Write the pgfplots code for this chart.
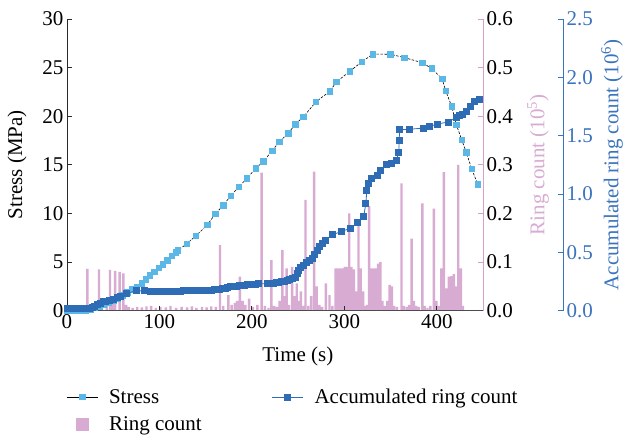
\documentclass[border=0pt]{standalone}
\usepackage{fontspec}
\setmainfont{Liberation Serif}
\usepackage{pgfplots}
\pgfplotsset{compat=1.18}

\definecolor{stressc}{HTML}{5BB7E5}
\definecolor{accc}{HTML}{2E6DB5}
\definecolor{accax}{HTML}{3B74BD}
\definecolor{ringc}{HTML}{D8ABD2}
\definecolor{ringax}{HTML}{D79FD0}
\definecolor{axc}{HTML}{2B2B2B}

\pgfplotsset{
  common/.style={
    scale only axis, height=291.7pt, ymin=0,
    font=\fontsize{21}{24}\selectfont,
    /pgf/number format/assume math mode=true,
    tick align=inside, clip=false, major tick length=5pt,
  },
  onedec/.style={/pgf/number format/fixed, /pgf/number format/fixed zerofill,
    /pgf/number format/precision=1},
}

\begin{document}
\begin{tikzpicture}

% ring count bars, drawn first so they sit behind the lines
\begin{axis}[common, width=416pt, xmin=0, xmax=450,
  axis x line=none, axis y line*=right,
  ymax=0.6, ytick={0,0.1,0.2,0.3,0.4,0.5,0.6},
  yticklabel style={onedec},
  y axis line style={ringax, line width=0.9pt},
  ytick style={ringax, line width=0.9pt},
  ylabel={Ring count (10\textsuperscript{5})},
  every axis y label/.style={at={(rel axis cs:1,0.5)}, xshift=55pt, rotate=90, anchor=center, text=ringc},
]
\addplot[ybar, bar width=2.6, bar shift=0pt, fill=ringc, draw=none] coordinates {
(22,0.086)(34.6,0.085)(43,0.025)(46.5,0.084)(49,0.02)(52,0.082)(57,0.08)(61,0.077)
(64,0.012)(67,0.008)(71,0.006)(76,0.008)(81,0.007)(86,0.009)(91,0.01)(96,0.006)
(101,0.008)(107,0.007)(112,0.01)(118,0.006)(124,0.008)(130,0.007)(135,0.009)(140,0.006)
(146,0.008)(151,0.007)(156,0.009)(161,0.008)(165.5,0.135)(169,0.01)(174.5,0.032)(178,0.012)
(181.5,0.016)(184,0.02)(187,0.07)(190,0.02)(193,0.012)(197,0.025)(201,0.008)(206,0.012)
(210.5,0.284)(214,0.01)(218,0.006)(221,0.104)(224,0.01)(227,0.008)(230,0.02)(233,0.125)
(235.3,0.03)(237.5,0.087)(240,0.012)(243.6,0.09)(246,0.03)(248.5,0.056)(251,0.02)(253,0.04)
(255.5,0.01)(258,0.228)(261,0.01)(264,0.03)(267.4,0.286)(270,0.05)(273,0.012)(276,0.008)
(280,0.056)(284,0.032)(287,0.01)(290.5,0.087)(293,0.087)(295.5,0.087)(298,0.087)(300.5,0.09)
(303,0.09)(305.3,0.2)(307.8,0.09)(310.3,0.085)(312.8,0.04)(315.3,0.187)(317.8,0.087)(320.3,0.04)
(322.5,0.01)(324.5,0.012)(326.8,0.215)(329.3,0.087)(331.8,0.087)(334.2,0.087)(336.6,0.097)(339,0.1)
(341.3,0.02)(344,0.01)(346.5,0.02)(349,0.053)(351.5,0.05)(354,0.01)(357,0.008)(361.8,0.262)
(364.5,0.01)(367.5,0.008)(370,0.012)(372.8,0.148)(375.3,0.02)(377.8,0.01)(380.5,0.008)(384.5,0.221)
(387,0.01)(390,0.006)(393,0.01)(396.8,0.21)(399.5,0.02)(402,0.01)(405,0.087)(407.6,0.285)
(410.3,0.046)(413,0.07)(415.8,0.071)(418.5,0.075)(420.8,0.05)(423.2,0.3)(426,0.087)(428.3,0.01)
};
\end{axis}

% stress
\begin{axis}[common, width=416pt, xmin=0, xmax=450, ymax=30,
  axis x line*=bottom, axis y line*=left,
  xtick={0,100,200,300,400}, ytick={0,5,10,15,20,25,30},
  x axis line style={black!70, line width=0.8pt},
  y axis line style={axc, line width=0.8pt},
  tick style={axc, line width=0.8pt},
  xlabel={Time (s)}, ylabel={Stress (MPa)},
  every axis x label/.style={at={(rel axis cs:0.555,0)}, yshift=-46pt, anchor=center},
  every axis y label/.style={at={(rel axis cs:0,0.5)}, xshift=-50pt, rotate=90, anchor=center},
]
\coordinate (O) at (rel axis cs:0,0);
\addplot[black, line width=0.6pt, dash pattern=on 2.5pt off 1.5pt, mark=square*, mark size=2.8pt,
  mark options={solid, draw=stressc, fill=stressc}] coordinates {
(0,0)(5,0)(10,0)(15,0)(20,0.05)(25,0.15)(30,0.3)(35,0.45)(40,0.6)(45,0.8)(50,1.0)(55,1.3)
(60,1.6)(65,1.9)(70,2.2)(75.3,2.47)(80.7,2.82)(85.4,3.23)(89.7,3.64)(94.4,4.01)(99.1,4.42)
(103.8,4.8)(108.5,5.2)(113.2,5.63)(117.8,6.0)(120,6.2)(129.7,6.9)(139.5,7.7)(152,8.85)
(160.4,9.95)(169,10.84)(177.3,11.83)(186,12.76)(194.6,13.6)(204.3,14.65)(212.6,15.37)
(222,16.46)(229.5,17.36)(239.3,18.25)(246.9,19.17)(255.9,19.96)(269.2,21.47)(284.3,22.57)
(291.5,23.53)(306,24.63)(319,25.6)(331,26.4)(350,26.37)(365,26.03)(384.5,25.5)(394.6,24.9)
(405.8,23.84)(409.7,22.6)(416.2,21.0)(421.3,19.1)(427,17.56)(432,16.26)(437.8,14.58)(444.3,13.0)
};
\end{axis}

% accumulated ring count, wider axis so its y axis stands further right
\begin{axis}[common, width=496pt, xmin=0, xmax=536.54,
  axis x line=none, axis y line*=right,
  ymax=2.5, ytick={0,0.5,1,1.5,2,2.5},
  yticklabel style={onedec, text=accax},
  y axis line style={accax, line width=0.8pt},
  ytick style={accax, line width=0.8pt},
  ylabel={Accumulated ring count (10\textsuperscript{6})},
  every axis y label/.style={at={(rel axis cs:1,0.5)}, xshift=49pt, rotate=90, anchor=center, text=accax},
  legend columns=2, legend cell align=left,
  legend image code/.code={\draw[mark repeat=2, mark phase=2, #1] plot coordinates {(0pt,0pt) (15.5pt,0pt) (31pt,0pt)};},
  legend style={at={(rel axis cs:0,0)}, anchor=north west, yshift=-74pt, xshift=-4pt,
    draw=none, fill=none, row sep=8pt, font=\fontsize{21}{24}\selectfont,
    /tikz/every odd column/.append style={column sep=9pt},
    /tikz/every even column/.append style={column sep=68pt}},
]
\addlegendimage{black, line width=0.8pt, mark=square*, mark size=2.8pt, mark options={draw=stressc, fill=stressc}}
\addlegendentry{Stress}
\addplot[accc, line width=0.8pt, mark=square*, mark size=3pt, mark options={draw=accc, fill=accc}] coordinates {
(0,0.02)(3,0.02)(6,0.02)(9,0.02)(12,0.02)(15,0.02)(18,0.02)(21,0.02)(24,0.022)(27,0.025)
(30,0.035)(33,0.05)(36,0.065)(39,0.077)(42,0.083)(46,0.09)(50,0.1)(54,0.11)(58,0.125)
(64.5,0.15)(75,0.17)(84,0.17)(90,0.165)(93,0.165)(96,0.165)(99,0.166)(102,0.166)(105,0.166)
(108,0.167)(111,0.167)(114,0.168)(117,0.168)(120,0.169)(123,0.169)(126,0.17)(129,0.17)
(132,0.171)(135,0.171)(138,0.172)(141,0.173)(144,0.174)(147,0.175)(150,0.176)(153,0.177)
(156,0.178)(159,0.18)(162,0.183)(165,0.186)(168,0.19)(171,0.195)(174,0.2)(177,0.205)
(180,0.208)(183,0.212)(186,0.215)(189,0.218)(192,0.22)(195,0.222)(198,0.224)(201,0.226)
(204,0.228)(207,0.23)(217,0.232)(220,0.234)(223,0.236)(226,0.24)(229,0.245)(232,0.25)
(235,0.255)(238,0.26)(241,0.265)(244,0.275)(247,0.285)(249,0.32)(250.5,0.345)(253,0.37)
(256,0.39)(259,0.41)(262,0.43)(265,0.45)(268,0.48)(270.6,0.52)(273,0.55)(276,0.58)(279,0.6)
(287,0.65)(297,0.68)(306.7,0.706)(313.8,0.754)(321,0.81)(323.3,0.92)(324.3,1.03)(326,1.09)
(329.4,1.13)(335.5,1.16)(339,1.2)(345,1.25)(351,1.26)(356.4,1.29)(359,1.36)(359.2,1.46)
(360,1.55)(370.8,1.555)(385,1.565)(392.4,1.58)(400.7,1.6)(412.3,1.617)(421.3,1.657)
(424.5,1.67)(427.7,1.68)(432,1.705)(436.4,1.75)(441,1.79)(446.5,1.81)
};
\addlegendentry{Accumulated ring count}
\addlegendimage{legend image code/.code={\fill[ringc] (10pt,-6pt) rectangle (22pt,6pt); \path (0pt,0pt) (31pt,0pt);}}
\addlegendentry{Ring count}
\end{axis}

\pgfresetboundingbox
\path ([shift={(-67pt,-125.3pt)}]O) rectangle ([shift={(562pt,310.7pt)}]O);
\end{tikzpicture}
\end{document}
